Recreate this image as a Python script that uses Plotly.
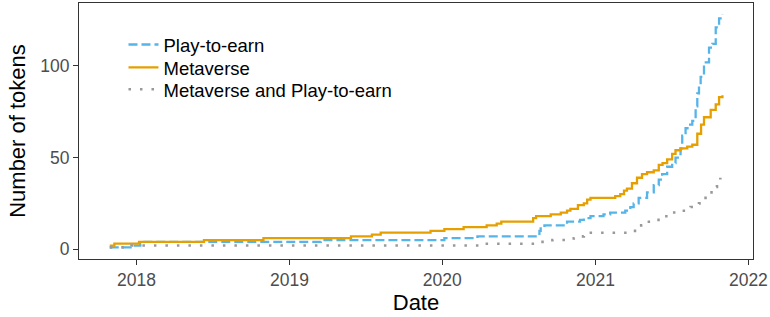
import plotly.graph_objects as go

# ---- data ----
p2e_dates = ["2017-10-29", "2017-12-22", "2018-01-10", "2018-01-20", "2019-03-17",
             "2020-01-06", "2020-03-25", "2020-08-20", "2020-08-23", "2020-09-01",
             "2020-10-25", "2020-11-25", "2020-12-04", "2020-12-20", "2021-01-20",
             "2021-02-05", "2021-03-13", "2021-03-25", "2021-04-02", "2021-04-14",
             "2021-05-04", "2021-05-20", "2021-06-01", "2021-06-09", "2021-06-21",
             "2021-07-03", "2021-07-11", "2021-07-23", "2021-07-27", "2021-08-04",
             "2021-08-12", "2021-08-20", "2021-08-28", "2021-09-01", "2021-09-05",
             "2021-09-09", "2021-09-17", "2021-09-29", "2021-10-07", "2021-10-15",
             "2021-10-23", "2021-10-31"]
p2e_values = [1, 2, 3, 4, 5,
              6, 7, 10, 12, 13,
              15, 16, 17, 18, 19,
              20, 21, 23, 25, 28,
              31, 35, 38, 41, 45,
              47, 50, 55, 62, 66,
              68, 70, 78, 85, 90,
              94, 102, 110, 112, 121,
              126, 128]

meta_dates = ["2017-10-29", "2017-11-09", "2018-01-07", "2018-06-11", "2018-10-31",
              "2019-05-28", "2019-07-17", "2019-08-07", "2019-12-04", "2020-01-06",
              "2020-02-21", "2020-04-16", "2020-05-10", "2020-05-21", "2020-08-05",
              "2020-08-12", "2020-09-16", "2020-10-10", "2020-10-25", "2020-11-02",
              "2020-11-20", "2020-12-04", "2020-12-12", "2020-12-20", "2021-02-17",
              "2021-03-01", "2021-03-10", "2021-03-17", "2021-03-29", "2021-04-10",
              "2021-04-22", "2021-05-04", "2021-05-20", "2021-06-01", "2021-06-10",
              "2021-06-21", "2021-07-03", "2021-07-11", "2021-07-23", "2021-08-08",
              "2021-08-20", "2021-09-01", "2021-09-10", "2021-09-17", "2021-10-03",
              "2021-10-15", "2021-10-23", "2021-10-31"]
meta_values = [2, 3, 4, 5, 6,
               7, 8, 9, 10, 11,
               12, 13, 14, 15, 17,
               18, 19, 20, 21, 22,
               24, 25, 27, 28, 29,
               30, 32, 33, 36, 39,
               41, 42, 43, 46, 47,
               49, 52, 54, 55, 56,
               57, 63, 68, 72, 76,
               79, 83, 84]

both_dates = ["2017-10-29", "2017-12-20", "2020-04-10", "2020-08-20", "2020-09-20",
              "2020-11-10", "2020-11-18", "2020-12-04", "2020-12-12", "2021-03-25",
              "2021-04-10", "2021-04-20", "2021-04-30", "2021-05-24", "2021-06-13",
              "2021-07-03", "2021-07-23", "2021-08-16", "2021-09-05", "2021-09-13",
              "2021-09-25", "2021-10-08", "2021-10-18", "2021-10-26"]
both_values = [1, 2, 3, 4, 5,
               6, 7, 8, 9, 10,
               12, 13, 15, 16, 18,
               20, 21, 23, 25, 28,
               31, 34, 37, 39]

series_names = ["Play-to-earn", "Metaverse", "Metaverse and Play-to-earn"]
year_ticks = ["2018-01-01", "2019-01-01", "2020-01-01", "2021-01-01", "2022-01-01"]
year_labels = ["2018", "2019", "2020", "2021", "2022"]
y_ticks = [0, 50, 100]

FONT = "Liberation Sans, Arial, Helvetica, sans-serif"

fig = go.Figure()
fig.add_trace(go.Scatter(x=p2e_dates, y=p2e_values, name=series_names[0], mode="lines",
                         legend="legend",
                         line=dict(color="#56B4E9", width=2.3, dash="9px,4px", shape="hv")))
fig.add_trace(go.Scatter(x=meta_dates, y=meta_values, name=series_names[1], mode="lines",
                         legend="legend2",
                         line=dict(color="#E69F00", width=2.3, shape="hv")))
fig.add_trace(go.Scatter(x=both_dates, y=both_values, name=series_names[2], mode="lines",
                         legend="legend3",
                         line=dict(color="#999999", width=2.6, dash="2.5px,9px", shape="hv")))

axis_common = dict(showgrid=False, zeroline=False, showline=True, mirror=True,
                   linecolor="#333333", linewidth=1.2, ticks="outside", ticklen=5,
                   tickwidth=1.1, tickcolor="#333333", ticklabeloverflow="allow",
                   tickfont=dict(family=FONT, size=17.5, color="#4D4D4D"))

fig.update_xaxes(type="date", range=["2017-08-16 14:00", "2022-01-12"],
                 tickvals=year_ticks, ticktext=year_labels,
                 title=dict(text="Date", font=dict(family=FONT, size=22, color="black"), standoff=2),
                 **axis_common)
fig.update_yaxes(range=[-5.35, 134.35], tickvals=y_ticks,
                 title=dict(text="Number of tokens", font=dict(family=FONT, size=22, color="black"), standoff=8),
                 **axis_common)

leg_common = dict(x=0.066, xanchor="left", yanchor="middle", bgcolor="rgba(0,0,0,0)",
                  font=dict(family=FONT, size=18.5, color="black"), itemwidth=30)

fig.update_layout(
    width=770, height=317,
    margin=dict(l=79, r=13, t=2, b=58),
    paper_bgcolor="white", plot_bgcolor="white",
    font=dict(family=FONT, color="black"),
    legend=dict(y=0.836, **leg_common),
    legend2=dict(y=0.747, **leg_common),
    legend3=dict(y=0.661, **leg_common),
    showlegend=True,
)

fig.write_html("out.html", config={"displayModeBar": False},
               post_script="document.body.style.margin='0';document.body.style.overflow='hidden';")
